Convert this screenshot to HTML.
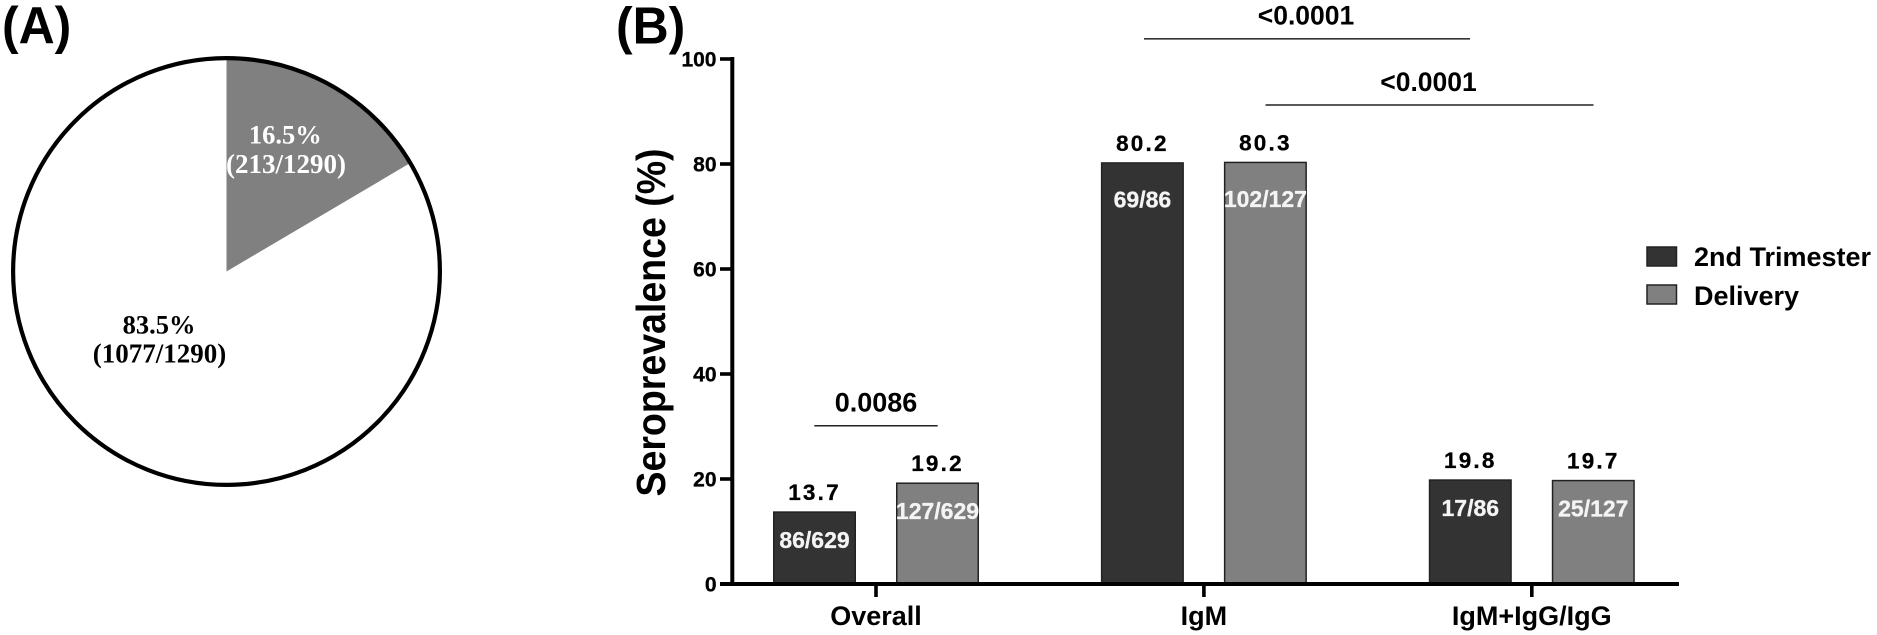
<!DOCTYPE html>
<html lang="en">
<head>
<meta charset="utf-8">
<title>Seroprevalence figure</title>
<style>
html,body{margin:0;padding:0;background:#fff;}
svg{display:block;}
text{font-family:"Liberation Sans",Arial,sans-serif;font-weight:bold;fill:#000;}
.serif{font-family:"Liberation Serif","Times New Roman",serif;}
</style>
</head>
<body>
<svg id="figure" xmlns="http://www.w3.org/2000/svg" width="1877" height="635" viewBox="0 0 1877 635">
  <rect x="0" y="0" width="1877" height="635" fill="#fff"/>
  <text transform="translate(2,43) scale(.96,1)" font-size="52">(A)</text>
  <text transform="translate(616,43.3) scale(.96,1)" font-size="52">(B)</text>
  <g id="pie"></g>
  <g id="bars"></g>
  <text transform="translate(665,322.5) rotate(-90) scale(.915,1)" text-anchor="middle" font-size="41">Seroprevalence (%)</text>

  <g>
    <line x1="814.3" x2="937.7" y1="425.7" y2="425.7" stroke="#222" stroke-width="1.5"/>
    <text x="876" y="411.7" text-anchor="middle" font-size="27">0.0086</text>
  </g>
  <g>
    <line x1="1144" x2="1470" y1="38.8" y2="38.8" stroke="#333" stroke-width="1.6"/>
    <text x="1306" y="24.6" text-anchor="middle" font-size="26.5">&lt;0.0001</text>
  </g>
  <g>
    <line x1="1265.5" x2="1593.5" y1="105" y2="105" stroke="#222" stroke-width="1.5"/>
    <text x="1428.5" y="91" text-anchor="middle" font-size="26.5">&lt;0.0001</text>
  </g>

  <g>
    <g>
      <rect x="1647" y="247" width="29.5" height="19" fill="#333" stroke="#222" stroke-width="1.5"/>
      <text x="1694" y="266" font-size="27">2nd Trimester</text>
    </g>
    <g>
      <rect x="1647" y="285" width="29.5" height="19" fill="#808080" stroke="#222" stroke-width="1.5"/>
      <text x="1694" y="304.8" font-size="27">Delivery</text>
    </g>
  </g>
</svg>
<script>
var pieCounts = [213, 1077];
var pieTotal = 1290;
var categories = ["Overall", "IgM", "IgM+IgG/IgG"];
var trimesterValues = [13.7, 80.2, 19.8];
var deliveryValues = [19.2, 80.3, 19.7];
var trimesterCounts = ["86/629", "69/86", "17/86"];
var deliveryCounts = ["127/629", "102/127", "25/127"];
var yTicks = [0, 20, 40, 60, 80, 100];

var NS = "http://www.w3.org/2000/svg";

function yScale(v) { return 584 - v * 5.25; }
function xCategory(i) { return 876 + i * 327.9; }
function pieAngle(count) { return count / pieTotal * 2 * Math.PI; }

function make(tag, parent, attrs, content) {
  var el = document.createElementNS(NS, tag);
  for (var k in attrs) { el.setAttribute(k, attrs[k]); }
  if (content !== undefined) { el.textContent = content; }
  parent.appendChild(el);
  return el;
}

/* ---------- Pie ---------- */
var pieGroup = document.getElementById("pie");
var cx = 226.5, cy = 271.5, r = 213.4;
var a = pieAngle(pieCounts[0]);
var large = a > Math.PI ? 1 : 0;
var ex = cx + r * Math.sin(a);
var ey = cy - r * Math.cos(a);

var baseCircle = make("circle", pieGroup, { cx: cx, cy: cy, r: r, fill: "#fff" });



var wedge = make("path", pieGroup, {
  d: "M" + cx + " " + cy + " L" + cx + " " + (cy - r) + " A" + r + " " + r + " 0 " + large + " 1 " + ex + " " + ey + " Z",
  fill: "#808080"
});



var outline = make("circle", pieGroup, { cx: cx, cy: cy, r: r, fill: "none", stroke: "#000", "stroke-width": 4.2 });



var pctA = make("text", pieGroup, { x: 285.3, y: 143.3, "text-anchor": "middle", "class": "serif", "font-size": 26.5, style: "fill:#fff" },
  (pieCounts[0] / pieTotal * 100).toFixed(1) + "%");



var cntA = make("text", pieGroup, { x: 286, y: 173, "text-anchor": "middle", "class": "serif", "font-size": 27, style: "fill:#fff" },
  "(" + pieCounts[0] + "/" + pieTotal + ")");



var pctB = make("text", pieGroup, { x: 159, y: 333.3, "text-anchor": "middle", "class": "serif", "font-size": 26.5 },
  (pieCounts[1] / pieTotal * 100).toFixed(1) + "%");



var cntB = make("text", pieGroup, { x: 159.5, y: 362.3, "text-anchor": "middle", "class": "serif", "font-size": 27 },
  "(" + pieCounts[1] + "/" + pieTotal + ")");



/* ---------- Bars ---------- */
var barGroup = document.getElementById("bars");
var barWidth = 81.5;
var barOffset = 61.5;

function drawBar(i, value, countLabel, sign, fill, seriesName) {
  var center = xCategory(i) + sign * barOffset;
  var top = yScale(value);
  var bar = make("rect", barGroup, {
    x: center - barWidth / 2,
    y: top,
    width: barWidth,
    height: yScale(0) - top,
    fill: fill,
    stroke: "#222",
    "stroke-width": 1.5
  });
  
  

  var valueText = make("text", barGroup, {
    x: center,
    y: top - 12,
    "text-anchor": "middle",
    "font-size": 22.5,
    "letter-spacing": 2.2,
    stroke: "#000",
    "stroke-width": 0.3
  }, value.toFixed(1));
  
  

  var countText = make("text", barGroup, {
    x: center,
    y: top + (value > 50 ? 44.5 : 36),
    "text-anchor": "middle",
    "font-size": 23,
    stroke: "#f4f4f4",
    "stroke-width": 0.3,
    style: "fill:#f4f4f4"
  }, countLabel);
  
  
}

categories.forEach(function (name, i) {
  drawBar(i, trimesterValues[i], trimesterCounts[i], -1, "#333333", "2nd-trimester");
  drawBar(i, deliveryValues[i], deliveryCounts[i], 1, "#808080", "delivery");
});

/* ---------- Axes ---------- */
var yAxis = make("line", barGroup, { x1: 732.3, x2: 732.3, y1: yScale(100) - 2, y2: yScale(0) + 2, stroke: "#000", "stroke-width": 4 });



var xAxis = make("line", barGroup, { x1: 720, x2: 1679, y1: yScale(0), y2: yScale(0), stroke: "#000", "stroke-width": 4 });



yTicks.forEach(function (t) {
  var tick = make("line", barGroup, { x1: 720, x2: 732, y1: yScale(t), y2: yScale(t), stroke: "#000", "stroke-width": 3.6 });
  
  

  var label = make("text", barGroup, { x: 716.5, y: yScale(t) + 7.4, "text-anchor": "end", "font-size": 21, stroke: "#000", "stroke-width": 0.3 }, String(t));
  
  
});

categories.forEach(function (name, i) {
  var tick = make("line", barGroup, { x1: xCategory(i), x2: xCategory(i), y1: yScale(0), y2: 597, stroke: "#000", "stroke-width": 3.6 });
  
  

  var label = make("text", barGroup, { x: xCategory(i), y: 625, "text-anchor": "middle", "font-size": 27 }, name);
  
  
});
</script>
</body>
</html>
